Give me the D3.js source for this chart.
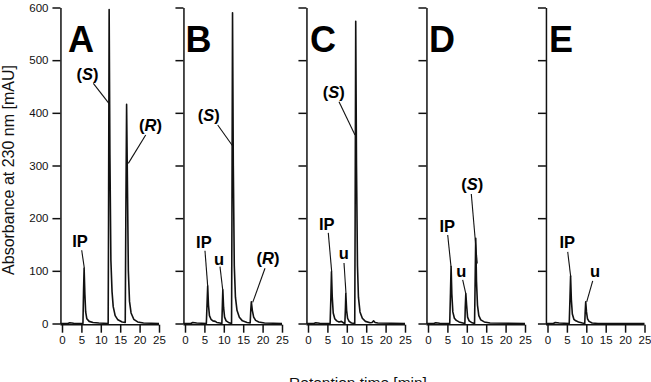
<!DOCTYPE html>
<html>
<head>
<meta charset="utf-8">
<script src="https://cdn.jsdelivr.net/npm/d3@7"></script>
<style>
	body { margin: 0; background: #fff; }
	svg { font-family: "Liberation Sans", Arial, Helvetica, sans-serif; }
	.axis path, .axis line { stroke: #111; stroke-width: 1.5; }
	.trace { fill: none; stroke: #111; stroke-width: 1.6; stroke-linejoin: round; }
	.lead { stroke: #111; stroke-width: 1.1; }
</style>
</head>
<body>
<script>

// retention time [min], absorbance [mAU]
var panels = ["A", "B", "C", "D", "E"];
var xTicks = [0, 5, 10, 15, 20, 25];
var yTicks = [0, 100, 200, 300, 400, 500, 600];

var traceA = [[-0.4,0],[1.5,0],[2,1.5],[3,0.5],[5.4,0],[5.55,60],[5.7,105],[5.9,55],[6.1,22],[6.4,9],[7,4],[8,2],[9.5,1],[11.9,0],[12.0,200],[12.15,596],[12.35,320],[12.6,120],[12.9,60],[13.2,32],[13.7,15],[14.4,7],[15.5,3],[16.3,2],[16.45,200],[16.65,416],[16.9,240],[17.1,100],[17.4,42],[17.8,20],[18.5,8],[19.5,3],[21,1],[25,0]];
var traceB = [[-0.4,0],[1.5,0],[2,2],[3,1],[5.5,0],[5.7,40],[5.85,71],[6.05,35],[6.3,15],[6.7,8],[7.2,5],[7.8,4],[8.2,2],[9.0,1],[9.5,0],[9.65,40],[9.75,64],[9.95,30],[10.2,12],[10.6,5],[11.2,2],[12.0,0],[12.1,200],[12.25,590],[12.45,300],[12.7,110],[13.0,50],[13.4,25],[14,12],[14.8,5],[16,2],[16.8,1],[16.95,25],[17.1,41],[17.35,25],[17.7,12],[18.2,6],[19,3],[20.5,1],[25,0]];
var traceC = [[-0.4,0],[1.5,0],[2,1.5],[3,0.5],[5.7,0],[5.9,50],[6.05,98],[6.25,50],[6.5,20],[6.9,9],[7.4,5],[8,3],[8.6,4],[9.2,1],[9.5,0],[9.65,30],[9.75,57],[9.95,25],[10.2,10],[10.6,4],[11.2,1],[12.05,0],[12.15,200],[12.3,574],[12.5,300],[12.75,110],[13.0,50],[13.4,22],[14,10],[14.8,4],[16,1.5],[16.5,2],[16.9,5],[17.3,2],[18,1],[25,0]];
var traceD = [[-0.4,0],[1.5,0],[2,1.5],[3,0.5],[5.6,0],[5.8,60],[5.95,108],[6.15,55],[6.4,22],[6.8,10],[7.3,6],[8,3],[9,1],[9.5,0],[9.6,30],[9.75,57],[9.95,35],[10.2,12],[10.6,5],[11.2,2],[12.0,0],[12.15,80],[12.3,162],[12.5,80],[12.75,35],[13.1,15],[13.6,7],[14.5,3],[16,1],[25,0]];
var traceE = [[-0.4,0],[1.5,0],[2,2],[3,1],[5.6,0],[5.8,50],[5.95,90],[6.15,45],[6.4,18],[6.8,8],[7.3,5],[8,3],[9,1],[9.6,0],[9.7,20],[9.85,41],[10.05,22],[10.3,9],[10.7,4],[11.5,1],[13,0],[25,0]];
var traces = [traceA, traceB, traceC, traceD, traceE];

// peak labels: text, label position (t, mAU baseline), leader line start / end (t, mAU)
var notesA = [["IP", 4.64,146, 5.08,139, 5.75,105], ["(S)", 6.57,462, 8.07,456, 12.19,417], ["(R)", 22.8,366, 21.57,358, 17.09,304]];
var notesB = [["IP", 4.87,143, 5.15,138, 5.85,71], ["u", 8.8,111, 9.02,108, 9.72,64], ["(S)", 6.13,385, 8.43,377, 12.29,337], ["(R)", 21.39,113, 20.62,105, 17.45,40]];
var notesC = [["IP", 4.82,178, 5.23,172, 6.11,98], ["u", 9.23,122, 9.28,115, 9.79,57], ["(S)", 6.66,428, 7.99,421, 12.11,358]];
var notesD = [["IP", 4.95,174, 5.08,168, 5.93,108], ["u", 8.55,89, 8.94,83, 9.72,57], ["(S)", 11.39,254, 11.16,246, 12.7,114]];
var notesE = [["IP", 5.08,143, 5.21,136, 5.98,89], ["u", 12.24,89, 11.65,81, 10.1,41]];
var notes = [notesA, notesB, notesC, notesD, notesE];

var width = 651, height = 382;
var panelX = [62, 185, 308, 428, 547.5];
var letterDx = [6, 0.5, 2, 1, 1.5];
var panelW = 97;

var svg = d3.select("body").append("svg")
	.attr("width", width)
	.attr("height", height);

var y = d3.scaleLinear().domain([0, 600]).range([323.5, 7.5]);

panels.forEach(function(name, i){
	var x = d3.scaleLinear().domain([0, 25]).range([panelX[i], panelX[i] + panelW]);
	var g = svg.append("g");
	var x0 = x(-0.4);

	// y axis
	var yAxis = d3.axisLeft(y).tickValues(yTicks).tickSize(8).tickSizeOuter(0).tickPadding(4);
	if (i > 0) yAxis.tickFormat("");
	g.append("g").attr("class", "axis")
		.attr("transform", "translate(" + x0 + ",0)")
		.call(yAxis)
		.call(function(a){ a.selectAll("text").attr("font-size", 11.5).attr("fill", "#111"); a.attr("font-family", null); });

	// x axis
	var xAxis = d3.axisBottom(x).tickValues(xTicks).tickSize(8).tickSizeOuter(0).tickPadding(3);
	var xa = g.append("g").attr("class", "axis")
		.attr("transform", "translate(0," + (y(0) + 1.2) + ")")
		.call(xAxis);
	xa.attr("font-family", null);
	xa.selectAll("text").attr("font-size", 11.5).attr("fill", "#111");
	xa.select(".domain").attr("d", "M" + x0 + ",0H" + x(25));

	// trace
	var line = d3.line().x(function(d){ return x(d[0]); }).y(function(d){ return y(d[1]); });
	g.append("path").attr("class", "trace").datum(traces[i]).attr("d", line);

	// panel letter
	g.append("text")
		.attr("x", panelX[i] + letterDx[i]).attr("y", 52)
		.attr("font-size", 36).attr("font-weight", "bold").attr("fill", "#000")
		.text(name);

	// peak labels
	notes[i].forEach(function(n){
		g.append("line").attr("class", "lead")
			.attr("x1", x(n[3])).attr("y1", y(n[4]))
			.attr("x2", x(n[5])).attr("y2", y(n[6]));
		var t = g.append("text")
			.attr("x", x(n[1])).attr("y", y(n[2]))
			.attr("text-anchor", "middle")
			.attr("font-size", 16.5).attr("font-weight", "bold").attr("fill", "#000");
		if (n[0].charAt(0) == "(") {
			t.append("tspan").text("(");
			t.append("tspan").attr("font-style", "italic").text(n[0].charAt(1));
			t.append("tspan").text(")");
		} else {
			t.text(n[0]);
		}
	});
});

svg.append("text")
	.attr("transform", "translate(14,170) rotate(-90)")
	.attr("text-anchor", "middle")
	.attr("font-size", 16).attr("fill", "#111")
	.text("Absorbance at 230 nm [mAU]");

svg.append("text")
	.attr("x", 358).attr("y", 388)
	.attr("text-anchor", "middle")
	.attr("font-size", 15.5).attr("fill", "#111")
	.text("Retention time [min]");

</script>
</body>
</html>
